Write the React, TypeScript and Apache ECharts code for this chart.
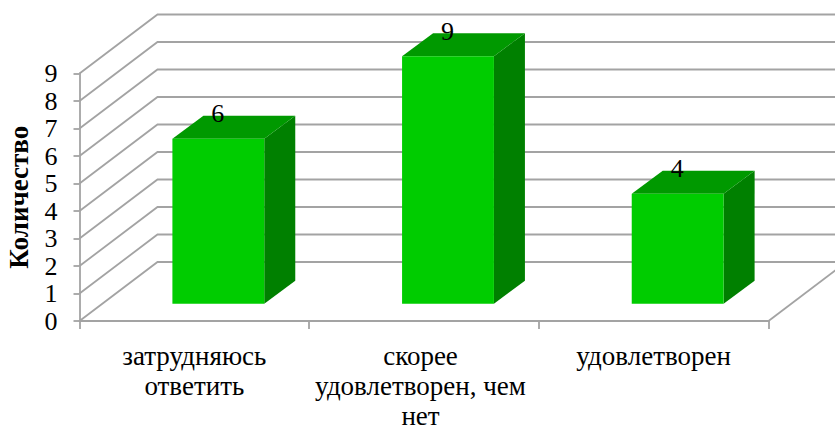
import React, { useEffect, useRef } from "react";
import * as echarts from "echarts";

const categories = ["затрудняюсь\nответить", "скорее\nудовлетворен, чем\nнет", "удовлетворен"];
const counts = [6, 9, 4];
const yTicks = [0, 1, 2, 3, 4, 5, 6, 7, 8, 9];
const yTitle = "Количество";

const FONT = "'Liberation Serif', 'Times New Roman', serif";
const GRID_COLOR = "#a3a3a3";
const WALL_DX = 78;
const WALL_DY = -59;
const BAR_SHIFT_X = 24;
const BAR_SHIFT_Y = -17.3;
const BAR_DX = 31;
const BAR_DY = -23;

const renderWalls = (params: any, api: any) => {
  const cs = params.coordSys;
  const y = api.coord([0, api.value(1)])[1];
  const x0 = cs.x;
  const x1 = cs.x + cs.width;
  const lineStyle = { stroke: GRID_COLOR, lineWidth: 1.8, fill: "none" };
  const children: any[] = [
    {
      type: "polyline",
      shape: { points: [[x0, y], [x0 + WALL_DX, y + WALL_DY], [x1 + WALL_DX, y + WALL_DY]] },
      style: lineStyle,
    },
  ];
  if (api.value(1) === 0) {
    children.push({
      type: "line",
      shape: { x1, y1: y, x2: x1 + WALL_DX, y2: y + WALL_DY },
      style: lineStyle,
    });
  }
  return { type: "group", children };
};

const renderBar = (params: any, api: any) => {
  const [cx, top0] = api.coord([api.value(0), api.value(1)]);
  const [, base0] = api.coord([api.value(0), 0]);
  const w = api.size([1, 0])[0] * 0.4;
  const l = cx + BAR_SHIFT_X - w / 2;
  const r = l + w;
  const top = top0 + BAR_SHIFT_Y;
  const base = base0 + BAR_SHIFT_Y;
  return {
    type: "group",
    children: [
      { type: "polygon", shape: { points: [[r, top], [r + BAR_DX, top + BAR_DY], [r + BAR_DX, base + BAR_DY], [r, base]] }, style: { fill: "#008000" } },
      { type: "polygon", shape: { points: [[l, top], [l + BAR_DX, top + BAR_DY], [r + BAR_DX, top + BAR_DY], [r, top]] }, style: { fill: "#009900" } },
      { type: "rect", shape: { x: l, y: top, width: w, height: base - top }, style: { fill: "#00cc00" } },
      {
        type: "text",
        style: {
          text: String(api.value(1)),
          x: cx + BAR_SHIFT_X - 0.5,
          y: top - 25,
          align: "center",
          verticalAlign: "middle",
          fill: "#000",
          font: `26px ${FONT}`,
        },
      },
    ],
  };
};

export default function App() {
  const ref = useRef<HTMLDivElement>(null);
  useEffect(() => {
    document.body.style.margin = "0";
    const chart = echarts.init(ref.current!, null, { renderer: "svg" });
    chart.setOption({
      animation: false,
      backgroundColor: "#fff",
      grid: { left: 79.5, right: 66.5, top: 73.5, bottom: 104, outerBoundsMode: "none" },
      xAxis: {
        type: "category",
        data: categories.map((value, i) => (i === 1 ? { value, textStyle: { padding: [0, 7, 0, 0] } } : value)),
        axisLine: { lineStyle: { color: GRID_COLOR, width: 1.8 } },
        axisTick: { show: true, length: 8, lineStyle: { color: GRID_COLOR, width: 1.8 } },
        axisLabel: { color: "#000", fontFamily: FONT, fontSize: 27, lineHeight: 30, margin: 19.5, interval: 0, hideOverlap: false },
        splitLine: { show: false },
      },
      yAxis: {
        type: "value",
        min: 0,
        max: 9,
        interval: 1,
        name: yTitle,
        nameLocation: "middle",
        nameGap: 47,
        nameTextStyle: { color: "#000", fontFamily: FONT, fontSize: 27, fontWeight: "bold" },
        axisLine: { show: true, lineStyle: { color: GRID_COLOR, width: 1.8 } },
        axisTick: { show: true, length: 6, lineStyle: { color: GRID_COLOR, width: 1.8 } },
        axisLabel: { color: "#000", fontFamily: FONT, fontSize: 26, margin: 22, padding: [3, 0, 0, 0] },
        splitLine: { show: false },
      },
      series: [
        {
          type: "custom",
          renderItem: renderWalls,
          data: yTicks.map((v) => [0, v]),
          encode: { x: 0, y: 1 },
          silent: true,
          z: 1,
        },
        {
          type: "custom",
          renderItem: renderBar,
          data: counts.map((v, i) => [i, v]),
          encode: { x: 0, y: 1 },
          z: 2,
        },
      ],
    });
    return () => chart.dispose();
  }, []);
  return <div ref={ref} style={{ width: 835, height: 425 }} />;
}
